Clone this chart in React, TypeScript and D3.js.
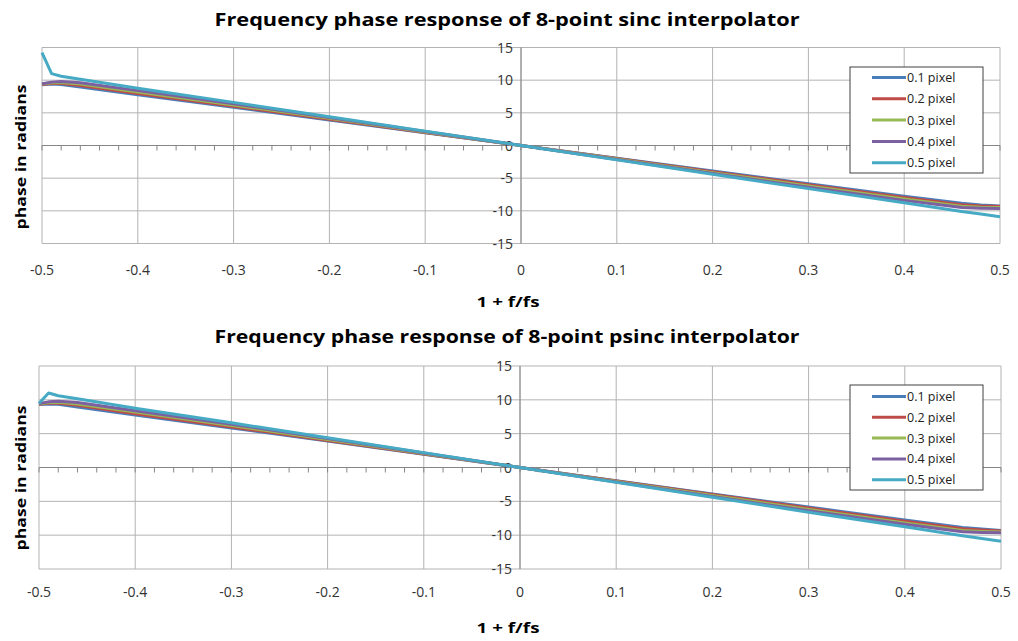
import React from "react";
import * as d3 from "d3";

// normalized frequency samples (shared by all series)
const freq = [-0.5, -0.49, -0.48, -0.46, -0.4, -0.3, -0.2, -0.1, 0, 0.1, 0.2, 0.3, 0.4, 0.46, 0.48, 0.5];

const seriesNames = ["0.1 pixel", "0.2 pixel", "0.3 pixel", "0.4 pixel", "0.5 pixel"];
const seriesColors = ["#4a7ebb", "#be4b48", "#98b954", "#7d60a0", "#46aac5"];

// phase values
const sincPx1 = [9.3, 9.4, 9.35, 8.95, 7.75, 5.85, 3.9, 1.95, 0, -1.95, -3.9, -5.85, -7.75, -8.85, -9.1, -9.25];
const sincPx2 = [9.35, 9.5, 9.5, 9.2, 7.95, 6.0, 4.0, 2.0, 0, -2.0, -4.0, -6.0, -7.95, -9.05, -9.25, -9.35];
const sincPx3 = [9.4, 9.6, 9.65, 9.4, 8.2, 6.2, 4.15, 2.07, 0, -2.07, -4.15, -6.2, -8.2, -9.3, -9.45, -9.5];
const sincPx4 = [9.45, 9.7, 9.8, 9.6, 8.4, 6.4, 4.3, 2.15, 0, -2.15, -4.3, -6.4, -8.4, -9.5, -9.6, -9.65];
const sincPx5 = [14.2, 11.0, 10.6, 10.15, 8.75, 6.6, 4.4, 2.2, 0, -2.2, -4.4, -6.6, -8.75, -10.1, -10.5, -10.9];

// phase values
const psincPx1 = [9.3, 9.4, 9.35, 8.95, 7.75, 5.85, 3.9, 1.95, 0, -1.95, -3.9, -5.85, -7.75, -8.85, -9.1, -9.3];
const psincPx2 = [9.35, 9.5, 9.5, 9.2, 7.95, 6.0, 4.0, 2.0, 0, -2.0, -4.0, -6.0, -7.95, -9.05, -9.25, -9.4];
const psincPx3 = [9.4, 9.6, 9.65, 9.4, 8.2, 6.2, 4.15, 2.07, 0, -2.07, -4.15, -6.2, -8.2, -9.3, -9.45, -9.55];
const psincPx4 = [9.45, 9.7, 9.8, 9.6, 8.4, 6.4, 4.3, 2.15, 0, -2.15, -4.3, -6.4, -8.4, -9.5, -9.6, -9.65];
const psincPx5 = [9.5, 11.0, 10.6, 10.15, 8.75, 6.6, 4.4, 2.2, 0, -2.2, -4.4, -6.6, -8.75, -10.1, -10.5, -10.9];

const xTicks = [-0.5, -0.4, -0.3, -0.2, -0.1, 0, 0.1, 0.2, 0.3, 0.4, 0.5];
const yTicks = [15, 10, 5, 0, -5, -10, -15];

const font = "'Open Sans', 'Noto Sans', sans-serif";

function Chart({ title, series, layout }) {
  const x = d3.scaleLinear().domain([-0.5, 0.5]).range([layout.x0, layout.x1]);
  const y = d3.scaleLinear().domain([-15, 15]).range([layout.y1, layout.y0]);
  const line = d3.line<number>()
    .x((d, i) => x(freq[i]))
    .y(d => y(d));
  const minor = d3.range(-0.5, 0.5001, 0.02);
  const lg = layout.legend;

  return (
    <g>
      <text x={507} y={layout.titleY} textAnchor="middle" fontFamily={font}
        fontWeight="bold" fontSize={18.5} textLength={585} lengthAdjust="spacingAndGlyphs">{title}</text>

      {/* gridlines */}
      {yTicks.map(t => (
        <line key={"h" + t} x1={layout.x0} x2={layout.x1} y1={y(t)} y2={y(t)} stroke="#b3b3b3" strokeWidth={1} />
      ))}
      {xTicks.map(t => (
        <line key={"v" + t} x1={x(t)} x2={x(t)} y1={layout.y0} y2={layout.y1} stroke="#b3b3b3" strokeWidth={1} />
      ))}

      {/* horizontal axis through zero with minor ticks */}
      <line x1={layout.x0} x2={layout.x1} y1={y(0)} y2={y(0)} stroke="#868686" strokeWidth={1} />
      {minor.map((t, i) => (
        <line key={"m" + i} x1={x(t)} x2={x(t)} y1={y(0)} y2={y(0) + 5} stroke="#868686" strokeWidth={1} />
      ))}
      <line x1={x(0)} x2={x(0)} y1={layout.y0} y2={layout.y1} stroke="#868686" strokeWidth={1} />

      {yTicks.map(t => (
        <text key={"yl" + t} x={x(0) - 8} y={y(t) + 5} textAnchor="end" fontFamily={font}
          fontSize={14} fill="#333">{t}</text>
      ))}
      {xTicks.map(t => (
        <text key={"xl" + t} x={x(t)} y={layout.tickY} textAnchor="middle" fontFamily={font}
          fontSize={14} fill="#333">{t}</text>
      ))}

      <text x={508} y={layout.xTitleY} textAnchor="middle" fontFamily={font}
        fontWeight="bold" fontSize={14} textLength={63} lengthAdjust="spacingAndGlyphs">1 + f/fs</text>
      <text transform={`translate(26,${layout.yTitleC}) rotate(-90)`} textAnchor="middle"
        fontFamily={font} fontWeight="bold" fontSize={14} textLength={145}
        lengthAdjust="spacingAndGlyphs">phase in radians</text>

      {series.map((s, k) => (
        <path key={"s" + k} d={line(s) || ""} fill="none" stroke={seriesColors[k]}
          strokeWidth={3} strokeLinejoin="round" />
      ))}

      <rect x={lg.x} y={lg.y} width={lg.w} height={lg.h} fill="white" stroke="#404040" strokeWidth={1} />
      {seriesNames.map((n, k) => (
        <g key={"lg" + k}>
          <line x1={lg.x + 22} x2={lg.x + 56} y1={lg.row0 + k * lg.step} y2={lg.row0 + k * lg.step}
            stroke={seriesColors[k]} strokeWidth={3} />
          <text x={lg.x + 57} y={lg.row0 + k * lg.step + 4.5} fontFamily={font} fontSize={12.5}
            fill="#222">{n}</text>
        </g>
      ))}
    </g>
  );
}

export default function App() {
  const topLayout = {
    x0: 42, x1: 1000, y0: 47.5, y1: 243.5, titleY: 26, tickY: 275, xTitleY: 307, yTitleC: 157,
    legend: { x: 850, y: 67, w: 133, h: 106, row0: 77.5, step: 21.3 },
  };
  const bottomLayout = {
    x0: 39, x1: 1001, y0: 366, y1: 569, titleY: 343, tickY: 597, xTitleY: 633, yTitleC: 478,
    legend: { x: 850, y: 385, w: 133, h: 105, row0: 396.5, step: 20.8 },
  };
  return (
    <svg width={1018} height={641} style={{ position: "absolute", left: 0, top: 0, background: "white" }}>
      <rect width={1018} height={641} fill="white" />
      <Chart title="Frequency phase response of 8-point sinc interpolator"
        series={[sincPx1, sincPx2, sincPx3, sincPx4, sincPx5]} layout={topLayout} />
      <Chart title="Frequency phase response of 8-point psinc interpolator"
        series={[psincPx1, psincPx2, psincPx3, psincPx4, psincPx5]} layout={bottomLayout} />
    </svg>
  );
}
